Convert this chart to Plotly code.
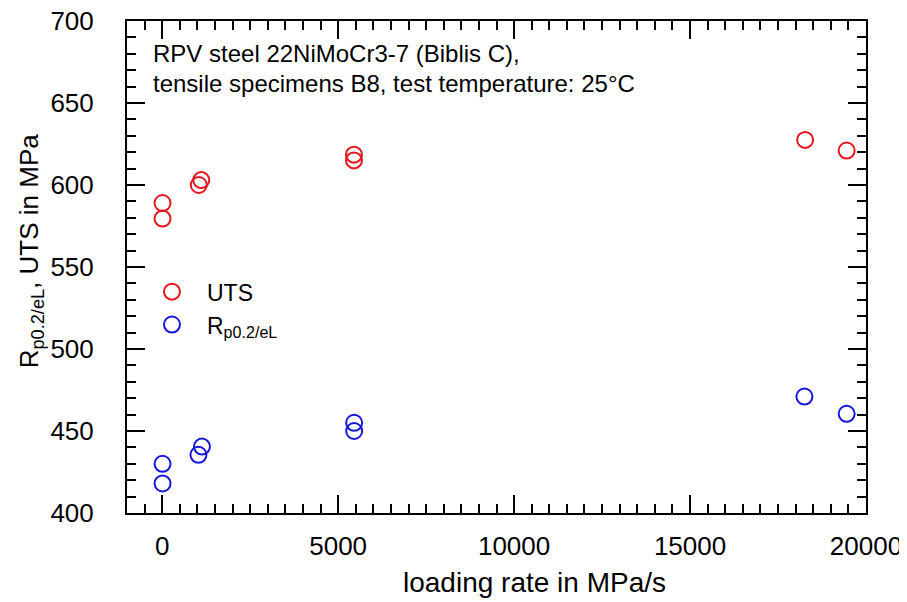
import plotly.graph_objects as go

# Data
uts_rate = [10, 10, 1040, 1110, 5450, 5450, 18270, 19450]
uts_val = [589, 579.5, 600, 603, 618.5, 615, 627.5, 621]
rp_rate = [10, 10, 1030, 1130, 5455, 5455, 18250, 19450]
rp_val = [430, 418, 435.5, 440.5, 455, 450, 471, 460.5]

red = "rgb(228,24,30)"
blue = "rgb(24,24,222)"
font_family = "Arial, Liberation Sans, sans-serif"

fig = go.Figure()
fig.add_trace(go.Scatter(
    x=uts_rate, y=uts_val, mode="markers", name="UTS",
    marker=dict(symbol="circle-open", size=16, color=red, line=dict(width=2)),
))
fig.add_trace(go.Scatter(
    x=rp_rate, y=rp_val, mode="markers", name="R<sub>p0.2/eL</sub>",
    marker=dict(symbol="circle-open", size=16, color=blue, line=dict(width=2)),
))

axis_common = dict(
    showline=True, linewidth=2, linecolor="black", mirror="ticks",
    ticks="inside", ticklen=18, tickwidth=2, tickcolor="black",
    showgrid=False, zeroline=False, tickformat="d",
    ticklabeloverflow="allow", automargin=False,
    tickfont=dict(size=26, color="black", family=font_family),
)

fig.update_xaxes(
    range=[-1000, 20000], tick0=0, dtick=5000,
    minor=dict(ticks="inside", ticklen=9, tickwidth=2, dtick=500, tick0=0, tickcolor="black"),
    ticklabelstandoff=9,
    **axis_common,
)
fig.update_yaxes(
    range=[400, 700], tick0=400, dtick=50,
    minor=dict(ticks="inside", ticklen=9, tickwidth=2, dtick=10, tick0=400, tickcolor="black"),
    ticklabelstandoff=26,
    **axis_common,
)

# Axis titles (as annotations so they sit where the reference has them)
fig.add_annotation(xref="paper", yref="paper", x=0.552, y=-0.1415, xanchor="center", yanchor="middle",
                   text="loading rate in MPa/s", showarrow=False,
                   font=dict(size=28, color="black", family=font_family))
fig.add_annotation(xref="paper", yref="paper", x=-0.1308, y=0.5325, xanchor="center", yanchor="middle",
                   text="R<sub>p0.2/eL</sub>, UTS in MPa", showarrow=False, textangle=-90,
                   font=dict(size=26, color="black", family=font_family))

fig.add_annotation(xref="paper", yref="paper", x=0.032, y=0.9344, xanchor="left", yanchor="middle",
                   text="RPV steel 22NiMoCr3-7 (Biblis C),", showarrow=False,
                   font=dict(size=24, color="black", family=font_family))
fig.add_annotation(xref="paper", yref="paper", x=0.032, y=0.8735, xanchor="left", yanchor="middle",
                   text="tensile specimens B8, test temperature: 25°C", showarrow=False,
                   font=dict(size=24, color="black", family=font_family))

# The page body adds an 8 px offset; margins compensate so the plot frame
# lands where the reference has it.
fig.update_layout(
    width=907, height=602,
    margin=dict(l=119, r=49, t=13, b=97, autoexpand=False),
    plot_bgcolor="white", paper_bgcolor="white",
    showlegend=True,
    legend=dict(x=0.0135, y=0.4935, xanchor="left", yanchor="top",
                bgcolor="rgba(0,0,0,0)", tracegroupgap=0, itemwidth=60,
                font=dict(size=23, color="black", family=font_family)),
)

fig.write_html("out.html")
